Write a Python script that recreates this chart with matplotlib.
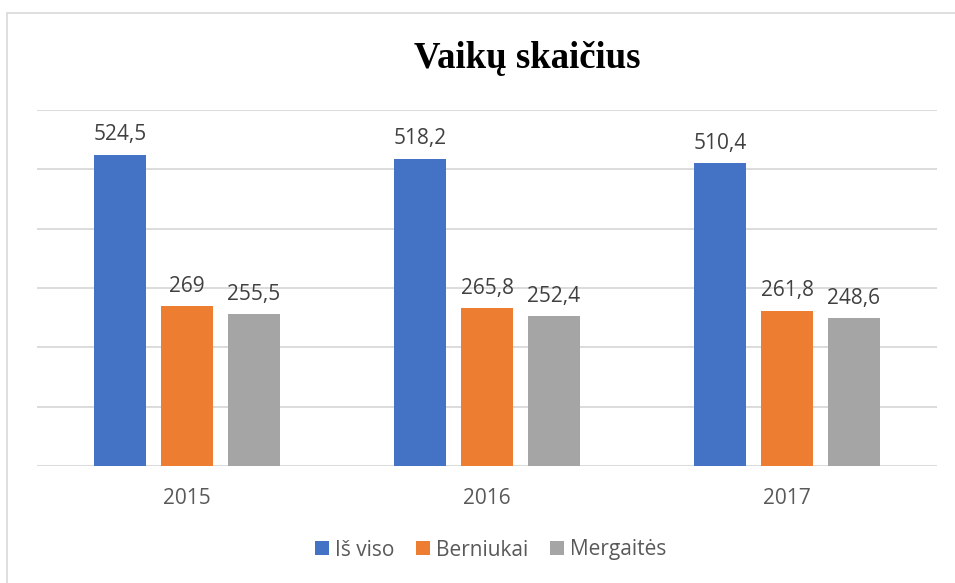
import numpy as np
import matplotlib.pyplot as plt
from matplotlib.patches import Rectangle

years = ["2015", "2016", "2017"]
series_names = ["Iš viso", "Berniukai", "Mergaitės"]
is_viso = [524.5, 518.2, 510.4]
berniukai = [269, 265.8, 261.8]
mergaites = [255.5, 252.4, 248.6]
colors = ["#4472c4", "#ed7d31", "#a5a5a5"]

def fmt(v):
    s = ("%g" % v)
    return s.replace(".", ",")

def main():
    plt.rcParams['font.family'] = ['Open Sans', 'DejaVu Sans']
    fig = plt.figure(figsize=(9.55, 5.83), dpi=100)
    ax = fig.add_axes([37/955, (583-466)/583, 900/955, (466-110)/583])

    x = np.arange(len(years))
    width = 0.173
    offsets = [-0.223, 0, 0.223]
    for vals, off, col, name in zip([is_viso, berniukai, mergaites], offsets, colors, series_names):
        bars = ax.bar(x + off, vals, width, color=col, label=name, zorder=3)
        for b, v in zip(bars, vals):
            ax.text(b.get_x() + b.get_width() / 2, v + 16, fmt(v), ha="center", va="bottom",
                    fontsize=15, color="#404040")

    ax.set_xlim(-0.5, 2.5)
    ax.set_ylim(0, 600)
    ax.set_yticks(np.arange(0, 601, 100))
    ax.yaxis.grid(True, color="#d9d9d9", linewidth=1.3, zorder=0)
    ax.tick_params(axis="y", left=False, labelleft=False)
    ax.tick_params(axis="x", bottom=False, pad=12, labelsize=15, labelcolor="#595959")
    ax.set_xticks(x)
    ax.set_xticklabels(years)
    for s in ax.spines.values():
        s.set_visible(False)

    fig.text(527/955, 1 - 59/583, "Vaikų skaičius", ha="center", va="center",
             fontsize=26.5, fontweight="bold", family=["Liberation Serif", "DejaVu Serif"])

    leg = fig.legend(loc="center", bbox_to_anchor=(491/955, 1 - 550/583), ncol=3, frameon=False,
                     fontsize=15, handlelength=0.65, handleheight=0.65, handletextpad=0.3,
                     columnspacing=1.05)
    for t in leg.get_texts():
        t.set_color("#595959")

    fig.patches.append(Rectangle((7/955, -0.1), 1.0, 1 - 13/583 + 0.1, transform=fig.transFigure,
                                 fill=False, edgecolor="#d9d9d9", linewidth=1.2))

    fig.savefig("out.png", dpi=100)

main()
